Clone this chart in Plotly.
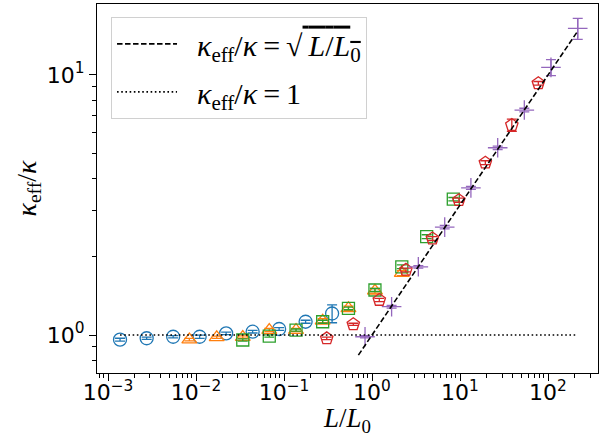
import numpy as np
import plotly.graph_objects as go

# ---- data ----
blue_x = [1.37e-3, 2.75e-3, 5.5e-3, 0.011, 0.022, 0.044, 0.088, 0.176, 0.352]
blue_y = [0.96, 0.972, 0.985, 0.985, 1.015, 1.03, 1.055, 1.125, 1.21]
blue_e = [0.012, 0.01, 0.01, 0.015, 0.012, 0.012, 0.012, 0.015, 0.095]

orange_x = [8.4e-3, 0.0172, 0.034, 0.068, 0.137, 0.275, 0.54, 1.08, 2.18]
orange_y = [0.96, 0.98, 0.982, 1.045, 1.045, 1.135, 1.266, 1.48, 1.73]
orange_e = [0.01, 0.01, 0.01, 0.015, 0.015, 0.02, 0.025, 0.03, 0.04]

green_x = [0.034, 0.068, 0.137, 0.275, 0.54, 1.08, 2.18, 4.18, 8.39]
green_y = [0.957, 0.991, 1.045, 1.125, 1.266, 1.49, 1.83, 2.39, 3.33]
green_e = [0.01, 0.01, 0.01, 0.015, 0.015, 0.02, 0.03, 0.04, 0.05]

red_x = [0.306, 0.613, 1.21, 2.43, 4.86, 9.7, 19.4, 38.8, 77.6]
red_y = [0.971, 1.10, 1.364, 1.78, 2.35, 3.30, 4.6, 6.42, 9.29]
red_e = [0.01, 0.01, 0.02, 0.03, 0.04, 0.06, 0.08, 0.35, 0.15]

purple_x = [0.833, 1.67, 3.36, 6.7, 13.3, 26.8, 53.8, 108, 217.6]
purple_y = [0.985, 1.285, 1.83, 2.6, 3.68, 5.25, 7.33, 10.7, 15.1]
purple_e = [0.01, 0.015, 0.02, 0.04, 0.05, 0.08, 0.12, 0.75, 1.4]

sqrt_line_x = [0.70, 218.0]
unity_line_x = [1.37e-3, 218.0]

x_tickvals = [1e-3, 1e-2, 1e-1, 1e0, 1e1, 1e2]
x_ticktext = ["10<sup>−3</sup>", "10<sup>−2</sup>", "10<sup>−1</sup>",
              "10<sup>0</sup>", "10<sup>1</sup>", "10<sup>2</sup>"]
y_tickvals = [1e0, 1e1]
y_ticktext = ["10<sup>0</sup>", "10<sup>1</sup>"]

fig = go.Figure()

def add_series(x, y, e, color, symbol, size):
    fig.add_trace(go.Scatter(
        x=x, y=y, mode="markers", showlegend=False,
        marker=dict(symbol=symbol, size=size, color=color,
                    line=dict(color=color, width=1.3)),
        error_y=dict(type="data", array=e, visible=True, color=color,
                     thickness=1.3, width=5),
    ))

add_series(blue_x, blue_y, blue_e, "#1f77b4", "circle-open", 13)
add_series(orange_x, orange_y, orange_e, "#ff7f0e", "triangle-up-open", 13)
add_series(green_x, green_y, green_e, "#2ca02c", "square-open", 12)
add_series(red_x, red_y, red_e, "#d62728", "pentagon-open", 13)
add_series(purple_x, purple_y, purple_e, "#9467bd", "cross-thin-open", 14)

fig.add_trace(go.Scatter(
    x=sqrt_line_x, y=list(np.sqrt(sqrt_line_x)), mode="lines",
    legendgroup="a",
    line=dict(color="black", width=1.6, dash="5.5px,2.5px"),
    name="\u2002<i>κ</i><sub>eff</sub>/<i>κ</i>\u2009=\u2009√<span style='text-decoration:overline'>\u2009<i>L</i>/<i>L</i><sub>0</sub></span>",
))
fig.add_trace(go.Scatter(
    x=unity_line_x, y=[1.0] * len(unity_line_x), mode="lines",
    legendgroup="b",
    line=dict(color="black", width=1.6, dash="1.6px,2.6px"),
    name="\u2002<i>κ</i><sub>eff</sub>/<i>κ</i>\u2009=\u20091",
))

axis_common = dict(
    showline=True, linecolor="black", linewidth=1, mirror=True,
    ticks="outside", ticklen=7, tickwidth=1, tickcolor="black",
    showgrid=False, zeroline=False,
    tickfont=dict(family="DejaVu Sans", size=22, color="black"),
    minor=dict(ticks="outside", ticklen=4, tickwidth=0.8, tickcolor="black",
               dtick="D1", showgrid=False),
)

fig.update_xaxes(type="log", range=[-3.125, 2.568],
                 tickvals=x_tickvals, ticktext=x_ticktext,
                 ticklabelstandoff=-7,
                 title=dict(text="<i>L</i>/<i>L</i><sub>0</sub>", standoff=12,
                            font=dict(family="Liberation Serif", size=27, color="black")),
                 **axis_common)
fig.update_yaxes(type="log", range=[-0.146, 1.273],
                 tickvals=y_tickvals, ticktext=y_ticktext,
                 title=dict(text="<i>κ</i><sub>eff</sub>/<i>κ</i>", standoff=2,
                            font=dict(family="Liberation Serif", size=28, color="black")),
                 **axis_common)

fig.update_layout(
    width=600, height=437,
    margin=dict(l=97, r=2, t=4, b=64),
    paper_bgcolor="white", plot_bgcolor="white",
    legend=dict(x=0.028, y=0.965, xanchor="left", yanchor="top",
                bgcolor="rgba(255,255,255,0.8)", bordercolor="#d0d0d0", borderwidth=1,
                font=dict(family="Liberation Serif", size=30, color="black"),
                itemwidth=60, tracegroupgap=6, traceorder="grouped"),
)

fig.write_html("out.html")
